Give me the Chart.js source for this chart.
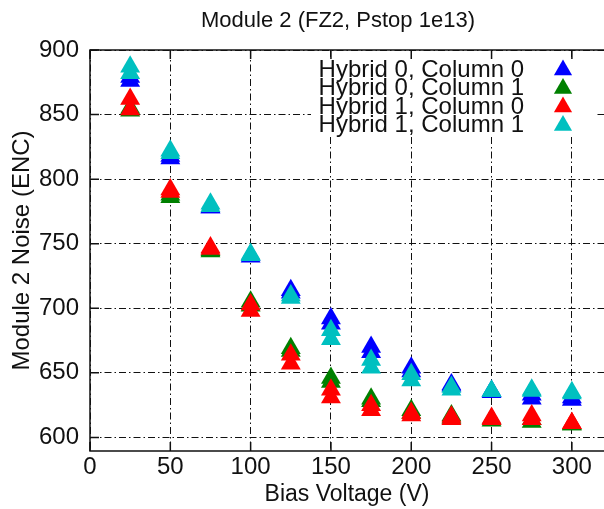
<!DOCTYPE html>
<html><head><meta charset="utf-8">
<script src="https://cdn.jsdelivr.net/npm/chart.js@4/dist/chart.umd.min.js"></script>
<style>html,body{margin:0;padding:0;background:#fff;overflow:hidden}canvas{display:block}</style>
</head><body><canvas id="c" width="604" height="509"></canvas>
<script>
const voltages = [25, 50, 75, 100, 125, 150, 175, 200, 225, 250, 275, 300];
const h0c0_a = [879, 818, 778, 741, 714, 692, 670, 654, 641, 636, 633, 631];
const h0c0_b = [876, 816, 778, 740, 712, 688, 666, 651, 640, 635, 630, 629];
const h0c1_a = [855, 788, 745, 705, 669, 646, 630, 621, 617, 614, 614, 610];
const h0c1_b = [853, 786, 744, 702, 667, 643, 628, 619, 615, 613, 612, 610];
const h1c0_a = [862, 792, 747, 703, 664, 637, 625, 619, 616, 615, 617, 611];
const h1c0_b = [854, 790, 746, 698, 657, 631, 621, 617, 614, 614, 614, 611];
const h1c1_a = [887, 822, 781, 742, 710, 683, 660, 649, 639, 636, 637, 635];
const h1c1_b = [882, 820, 779, 741, 708, 676, 654, 644, 637, 636, 636, 634];
const seriesLabels = ['Hybrid 0, Column 0', 'Hybrid 0, Column 1', 'Hybrid 1, Column 0', 'Hybrid 1, Column 1'];
const seriesColors = ['#0000ff', '#008000', '#ff0000', '#00c0c0'];
const xTicks = [0, 50, 100, 150, 200, 250, 300];
const yTicks = [600, 650, 700, 750, 800, 850, 900];
const titleText = 'Module 2 (FZ2, Pstop 1e13)';
const xTitle = 'Bias Voltage (V)';
const yTitle = 'Module 2 Noise (ENC)';

const FONT = '"Liberation Sans", Arial, Helvetica, sans-serif';
function pts(a, b) {
  const out = [];
  voltages.forEach((v, i) => { out.push({x: v, y: a[i]}); out.push({x: v, y: b[i]}); });
  return out;
}
const seriesData = [pts(h0c0_a, h0c0_b), pts(h0c1_a, h0c1_b), pts(h1c0_a, h1c0_b), pts(h1c1_a, h1c1_b)];
const R = 11.5;

function tri(ctx, x, y, r, color) {
  ctx.beginPath();
  let a = 0;
  ctx.moveTo(x + Math.sin(a) * r, y - Math.cos(a) * r);
  a += 2 * Math.PI / 3; ctx.lineTo(x + Math.sin(a) * r, y - Math.cos(a) * r);
  a += 2 * Math.PI / 3; ctx.lineTo(x + Math.sin(a) * r, y - Math.cos(a) * r);
  ctx.closePath();
  ctx.fillStyle = color; ctx.fill();
}

const decor = {
  id: 'decor',
  afterDatasetsDraw(chart) {
    const ctx = chart.ctx, ca = chart.chartArea;
    const xs = chart.scales.x, ys = chart.scales.y;
    ctx.save();
    ctx.fillStyle = '#fff';
    ctx.fillRect(311, 57, 284, 79);
    ctx.strokeStyle = '#111'; ctx.lineWidth = 1.5; ctx.setLineDash([]);
    ctx.beginPath();
    xTicks.forEach(v => { const px = xs.getPixelForValue(v);
      ctx.moveTo(px, ca.bottom); ctx.lineTo(px, ca.bottom - 9);
      ctx.moveTo(px, ca.top); ctx.lineTo(px, ca.top + 9); });
    yTicks.forEach(v => { const py = ys.getPixelForValue(v);
      ctx.moveTo(ca.left, py); ctx.lineTo(ca.left + 9, py); });
    ctx.stroke();
    ctx.beginPath();
    ctx.moveTo(ca.right + 2, ca.top); ctx.lineTo(ca.left, ca.top); ctx.lineTo(ca.left, ca.bottom); ctx.lineTo(ca.right + 2, ca.bottom);
    ctx.stroke();
    ctx.font = '24px ' + FONT; ctx.textAlign = 'right'; ctx.textBaseline = 'alphabetic';
    chart.data.datasets.forEach((ds, i) => {
      const cy = 68 + i * 18.5;
      ctx.fillStyle = '#111';
      ctx.fillText(ds.label, 524, cy + 8.6);
      tri(ctx, 563, cy + 2, 10.5, ds.backgroundColor);
    });
    ctx.font = '22px ' + FONT; ctx.fillStyle = '#111'; ctx.textAlign = 'center'; ctx.textBaseline = 'middle';
    ctx.fillText(titleText, 338, 21);
    ctx.restore();
  }
};

new Chart(document.getElementById('c'), {
  type: 'scatter',
  data: {
    datasets: seriesData.map((d, i) => ({
      label: seriesLabels[i], data: d,
      backgroundColor: seriesColors[i], borderColor: seriesColors[i],
      pointStyle: 'triangle', pointRadius: R, pointHoverRadius: R, borderWidth: 0,
      order: 4 - i
    }))
  },
  options: {
    responsive: false, animation: false,
    layout: {autoPadding: false, padding: {top: 50, left: 0, right: 0, bottom: 0}},
    plugins: {legend: {display: false}, tooltip: {enabled: false}, title: {display: false}},
    scales: {
      x: {
        type: 'linear', min: 0, max: 320,
        afterBuildTicks: s => { s.ticks = xTicks.map(v => ({value: v})); },
        afterFit: s => { s.height = 58; s.paddingLeft = 0; s.paddingRight = 0; },
        grid: {color: '#111', lineWidth: 1, drawTicks: false},
        border: {display: false, dash: [7, 3, 1.5, 3]},
        ticks: {font: {family: FONT, size: 24}, color: '#111', padding: 2, maxRotation: 0},
        title: {display: true, text: xTitle, font: {family: FONT, size: 23}, color: '#111', padding: {top: 0, bottom: 0.5}}
      },
      y: {
        type: 'linear', min: 589.5, max: 900,
        afterBuildTicks: s => { s.ticks = yTicks.map(v => ({value: v})); },
        afterFit: s => { s.width = 90; s.paddingTop = 0; s.paddingBottom = 0; },
        grid: {color: '#111', lineWidth: 1, drawTicks: false},
        border: {display: false, dash: [7, 3, 1.5, 3]},
        ticks: {font: {family: FONT, size: 24}, color: '#111', padding: 11},
        title: {display: true, text: yTitle, font: {family: FONT, size: 24}, color: '#111', padding: {top: 8, bottom: 0}}
      }
    }
  },
  plugins: [decor]
});
</script>
</body></html>
